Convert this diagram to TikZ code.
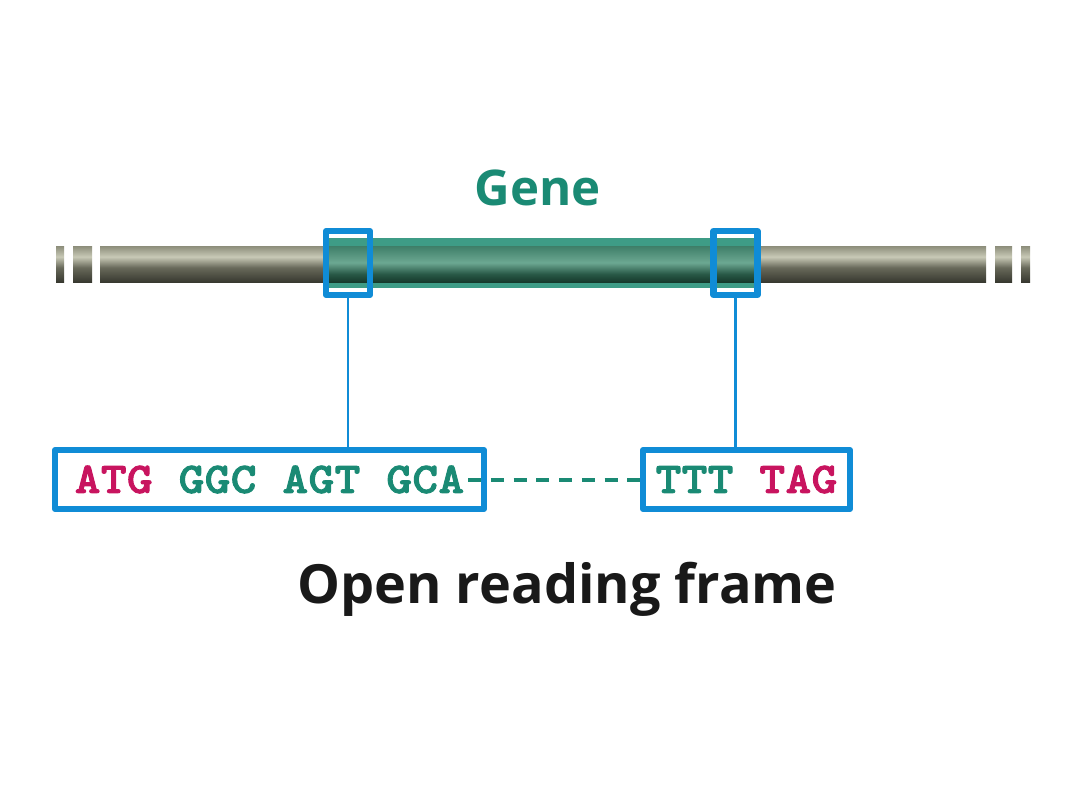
\documentclass[tikz,border=0pt]{standalone}
\usepackage{fontspec}
\setsansfont{Open Sans}
\newfontfamily\codonfont[FakeStretch=1.12, FakeBold=2.2, LetterSpace=1]{lmmonolt10-bold.otf}
\usetikzlibrary{positioning}
\definecolor{genegreen}{RGB}{26,138,116}
\definecolor{stopred}{RGB}{200,20,95}
\definecolor{orfblue}{RGB}{16,140,214}
\definecolor{graytop}{RGB}{140,141,122}
\definecolor{graymid}{RGB}{200,201,182}
\definecolor{graylow}{RGB}{104,105,90}
\definecolor{graybot}{RGB}{56,57,48}
\definecolor{geneedge}{RGB}{62,156,134}
\definecolor{genetop}{RGB}{62,126,104}
\definecolor{genemid}{RGB}{108,168,146}
\definecolor{genelow}{RGB}{40,88,70}
\definecolor{genebot}{RGB}{22,58,44}
\pgfdeclareverticalshading{dnashade}{100bp}{color(0bp)=(graybot); color(25bp)=(graybot);
  color(45bp)=(graylow); color(60bp)=(graymid); color(75bp)=(graytop); color(100bp)=(graytop)}
\pgfdeclareverticalshading{geneshade}{100bp}{color(0bp)=(genebot); color(25bp)=(genebot);
  color(36bp)=(genelow); color(52bp)=(genemid); color(75bp)=(genetop); color(100bp)=(genetop)}
\tikzset{
  orfbox/.style={draw=orfblue, line width=4.3pt, inner sep=0pt},
  codon/.style={font=\codonfont\fontsize{31}{32}\selectfont, text=genegreen},
  dnabar/.style={shading=dnashade},
  genebar/.style={shading=geneshade},
}
\begin{document}
\begin{tikzpicture}[x=0.025cm, y=-0.025cm, line join=round]
	\useasboundingbox (0,0) rectangle (1080,810);
	\shade[dnabar] (56,246) rectangle (64,282);
	\shade[dnabar] (73,246) rectangle (92,282);
	\shade[dnabar] (100,246) rectangle (328,282);
	\shade[dnabar] (758,246) rectangle (986,282);
	\shade[dnabar] (995,246) rectangle (1012,282);
	\shade[dnabar] (1021,246) rectangle (1030,282);
	\fill[geneedge] (328,238) rectangle (758,288);
	\shade[genebar] (328,246) rectangle (758,282);
	\node[font=\sffamily\bfseries\fontsize{35}{38}\selectfont, text=genegreen, anchor=base] (genelabel) at (538,205) {Gene};
	\node[orfbox, minimum width=1.1cm, minimum height=1.6cm] (startbox) at (348,263) {};
	\node[orfbox, minimum width=1.1cm, minimum height=1.6cm] (stopbox) at (735.5,263) {};
	\node[orfbox, codon, minimum width=10.725cm, minimum height=1.475cm] (seqL) at (269.5,479.5) {\textcolor{stopred}{ATG} GGC AGT GCA};
	\node[orfbox, codon, minimum width=5.175cm, minimum height=1.475cm] (seqR) at (746.5,479.5) {TTT \textcolor{stopred}{TAG}};
	\coordinate (gcaend) at (468,480);
	\draw[orfblue, line width=2pt] (startbox.south) -- (startbox.south |- seqL.north);
	\draw[orfblue, line width=2pt] (stopbox.south) -- (stopbox.south |- seqR.north);
	\draw[genegreen, line width=2.3pt, dash pattern=on 9.2pt off 7pt] (gcaend) -- (seqR.west |- gcaend);
	\node[font=\sffamily\bfseries\fontsize{38.4}{42}\selectfont, text=black!90, anchor=base] (orflabel) at (567,603) {Open reading frame};
\end{tikzpicture}
\end{document}
